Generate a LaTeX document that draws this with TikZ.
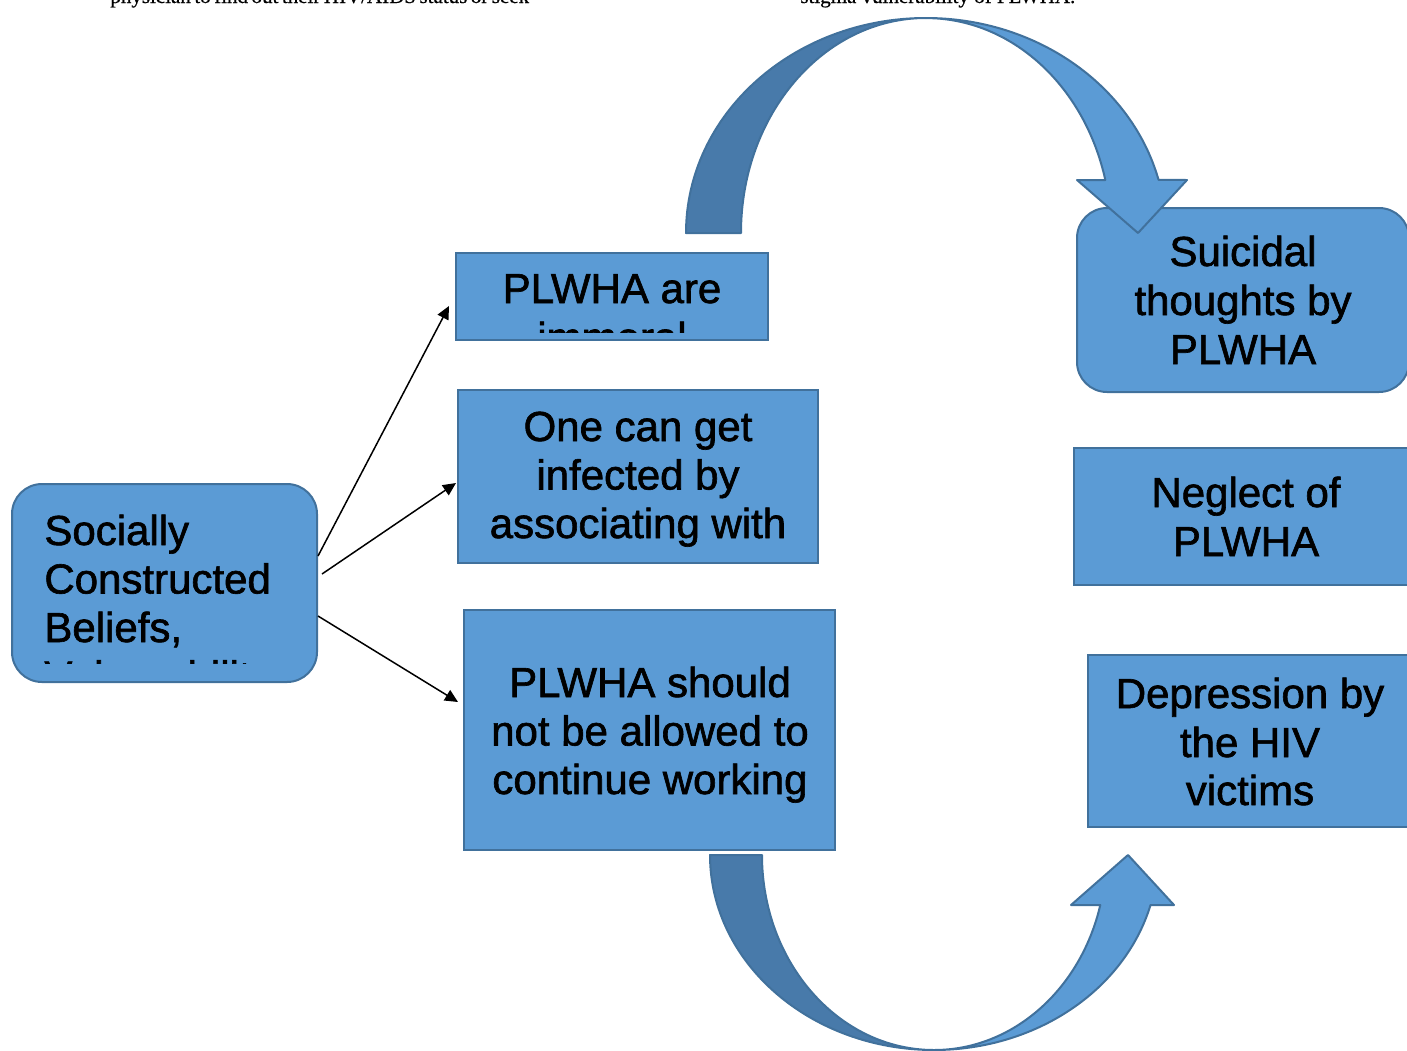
\documentclass[tikz,border=0pt]{standalone}
\usepackage{fontspec}
\setmainfont{Liberation Sans}
\newfontfamily\boxfont{Liberation Sans}[FakeBold=1.5]
\newfontfamily\serifff{Liberation Serif}[FakeBold=0.5]
\usetikzlibrary{arrows.meta}
\definecolor{boxfill}{HTML}{5B9BD5}
\definecolor{boxline}{HTML}{41719C}
\definecolor{darkband}{RGB}{72,122,170}
\begin{document}
\begin{tikzpicture}[x=0.5pt,y=-0.5pt,
  box/.style={draw=boxline, fill=boxfill, line width=1pt, inner sep=0pt, rectangle},
  rbox/.style={box, rounded corners=15pt},
  lbl/.style={font=\boxfont\fontsize{21}{24.5}\selectfont, inner sep=0pt, anchor=base, text=black},
  lbll/.style={lbl, anchor=base west},
  band/.style={draw=boxline, line width=1pt, line join=round},
  conn/.style={-{Triangle[length=6.5pt,width=6pt]}, line width=0.75pt, black},
  toptext/.style={anchor=base west, inner sep=0pt, font=\serifff\fontsize{10.5}{12}\selectfont}]
\useasboundingbox (0,0) rectangle (1407,1050);

% cut-off text of the page above
\node[toptext] (t1) at (110,3) {\makebox[200pt][s]{physician to find out their HIV/AIDS status or seek}};
\node[toptext] (t2) at (800,3) {stigma vulnerability of PLWHA.};

% boxes
\node[rbox, minimum width=152.5pt, minimum height=99pt] (soc) at (164.5,583) {};
\node[box, minimum width=156pt, minimum height=43.5pt] (b1) at (612,296.5) {};
\node[box, minimum width=180pt, minimum height=86.5pt] (b2) at (638,476.5) {};
\node[box, minimum width=185.5pt, minimum height=120pt] (b3) at (649.5,730) {};
\node[rbox, minimum width=166pt, minimum height=92pt] (r1) at (1243,300) {};
\node[box, minimum width=172pt, minimum height=68.5pt] (r2) at (1246,516.5) {};
\node[box, minimum width=162pt, minimum height=86pt] (r3) at (1250,741) {};

% texts
\begin{scope}
  \clip (12,484) rectangle (317,663);
  \node[lbll] (soc1) at (44,545) {Socially};
  \node[lbll] (soc2) at (44,593.5) {Constructed};
  \node[lbll] (soc3) at (44,642) {Beliefs,};
  \node[lbll] (soc4) at (44,690.5) {Vulnerability};
\end{scope}
\begin{scope}
  \clip (456,253) rectangle (768,332);
  \node[lbl] (b1a) at (612,303) {PLWHA are};
  \node[lbl] (b1b) at (612,352) {immoral};
\end{scope}
\node[lbl] (b2a) at (638,441) {One can get};
\node[lbl] (b2b) at (638,489.5) {infected by};
\node[lbl] (b2c) at (638,538) {associating with};
\node[lbl] (b3a) at (650,697) {PLWHA should};
\node[lbl] (b3b) at (650,745.5) {not be allowed to};
\node[lbl] (b3c) at (650,794) {continue working};
\node[lbl] (r1a) at (1243,266) {Suicidal};
\node[lbl] (r1b) at (1243,315) {thoughts by};
\node[lbl] (r1c) at (1243,364) {PLWHA};
\node[lbl] (r2a) at (1246,507) {Neglect of};
\node[lbl] (r2b) at (1246,556) {PLWHA};
\node[lbl] (r3a) at (1250,708) {Depression by};
\node[lbl] (r3b) at (1250,757) {the HIV};
\node[lbl] (r3c) at (1250,805) {victims};

% connectors
\draw[conn] ([yshift=13.5pt]soc.east) -- ([xshift=-3pt,yshift=-4.75pt]b1.west);
\draw[conn] ([xshift=2pt,yshift=4.5pt]soc.east) -- ([xshift=-0.5pt,yshift=-3.25pt]b2.west);
\draw[conn] ([yshift=-16.5pt]soc.east) -- ([xshift=-2.5pt,yshift=14pt]b3.west);

% top curved arrow
\draw[band, fill=darkband] (686,233)
  arc[start angle=180, end angle=270, x radius=240, y radius=215]
  arc[start angle=270, end angle=180, x radius=185, y radius=215] -- cycle;
\draw[band, fill=boxfill] (926,18)
  arc[start angle=270, end angle=345.7, x radius=240, y radius=215]
  -- (1187,180) -- (1138,233) -- (1077,180) -- (1105.3,180)
  arc[start angle=345.7, end angle=270, x radius=185, y radius=215] -- cycle;

% bottom curved arrow
\draw[band, fill=darkband] (710,855)
  arc[start angle=180, end angle=90, x radius=224, y radius=195]
  arc[start angle=90, end angle=180, x radius=172, y radius=195] -- cycle;
\draw[band, fill=boxfill] (934,1050)
  arc[start angle=90, end angle=14.86, x radius=224, y radius=195]
  -- (1174,905) -- (1128,855) -- (1071,905) -- (1100.3,905)
  arc[start angle=14.86, end angle=90, x radius=172, y radius=195] -- cycle;
\end{tikzpicture}
\end{document}
